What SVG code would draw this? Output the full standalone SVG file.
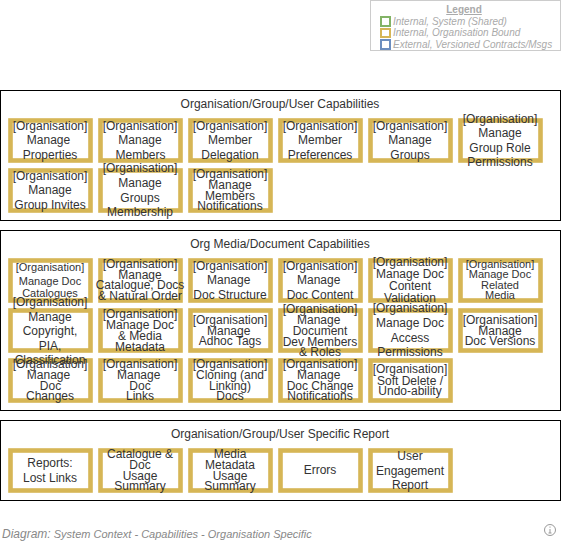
<svg xmlns="http://www.w3.org/2000/svg" width="561" height="545" viewBox="0 0 561 545">
<style>
text{font-family:"Liberation Sans",Arial,sans-serif;font-size:12px;fill:#333;text-anchor:middle}
.c{fill:#fff;stroke:#000;stroke-width:1}
.n{fill:#fff;stroke:#d6b656;stroke-width:4.6}
.s{font-size:11px}
.l{font-size:10px;font-style:italic;fill:#aaa;text-anchor:start}
.f{font-size:11px;font-style:italic;fill:#888;text-anchor:start}
</style>
<g id="legend">
<rect x="370.5" y="0.5" width="190" height="50" fill="#fff" stroke="#ccc"/>
<text x="464" y="13" style="font-size:10px;font-weight:bold;fill:#aaa;text-decoration:underline">Legend</text>
<rect x="381" y="17" width="9" height="9" fill="#fff" stroke="#82b366" stroke-width="2"/>
<rect x="381" y="29" width="9" height="8" fill="#fff" stroke="#d6b656" stroke-width="2"/>
<rect x="381" y="40" width="9" height="9" fill="#fff" stroke="#6c8ebf" stroke-width="2"/>
<text class="l" x="393" y="25">Internal, System (Shared)</text>
<text class="l" x="393" y="36">Internal, Organisation Bound</text>
<text class="l" x="393" y="47.5">External, Versioned Contracts/Msgs</text>
</g>
<g id="group-capabilities"><rect class="c" x="0.5" y="90.5" width="560" height="130"/><text x="280" y="108">Organisation/Group/User Capabilities</text></g>
<g id="media-capabilities"><rect class="c" x="0.5" y="230.5" width="560" height="180"/><text x="280" y="248">Org Media/Document Capabilities</text></g>
<g id="specific-report"><rect class="c" x="0.5" y="420.5" width="560" height="80"/><text x="280" y="438">Organisation/Group/User Specific Report</text></g>

<g id="n01"><rect class="n" x="10.5" y="120.5" width="80" height="40"/><text x="50" y="129.5">[Organisation]</text><text x="48.5" y="144">Manage</text><text x="50" y="159">Properties</text></g>
<g id="n02"><rect class="n" x="100.5" y="120.5" width="80" height="40"/><text x="140" y="129.5">[Organisation]</text><text x="140" y="144">Manage</text><text x="140.5" y="159">Members</text></g>
<g id="n03"><rect class="n" x="190.5" y="120.5" width="80" height="40"/><text x="230" y="129.5">[Organisation]</text><text x="230" y="144">Member</text><text x="230" y="159">Delegation</text></g>
<g id="n04"><rect class="n" x="280.5" y="120.5" width="80" height="40"/><text x="320" y="129.5">[Organisation]</text><text x="320" y="144">Member</text><text x="320" y="159">Preferences</text></g>
<g id="n05"><rect class="n" x="370.5" y="120.5" width="80" height="40"/><text x="410" y="129.5">[Organisation]</text><text x="410" y="144">Manage</text><text x="410" y="159">Groups</text></g>
<g id="n06"><rect class="n" x="460.5" y="120.5" width="80" height="40"/><text x="500" y="122.5">[Organisation]</text><text x="500" y="137">Manage</text><text x="500" y="151.5">Group Role</text><text x="500" y="166">Permissions</text></g>
<g id="n07"><rect class="n" x="10.5" y="170.5" width="80" height="40"/><text x="50" y="179.5">[Organisation]</text><text x="50" y="194">Manage</text><text x="50" y="209">Group Invites</text></g>
<g id="n08"><rect class="n" x="100.5" y="170.5" width="80" height="40"/><text x="140" y="172">[Organisation]</text><text x="140" y="187">Manage</text><text x="140" y="201.5">Groups</text><text x="140" y="216">Membership</text></g>
<g id="n09"><rect class="n" x="190.5" y="170.5" width="80" height="40"/><text x="230" y="178">[Organisation]</text><text x="230" y="189">Manage</text><text x="230" y="199.5">Members</text><text x="230" y="210">Notifications</text></g>

<g id="n10"><rect class="n" x="10.5" y="260.5" width="80" height="40"/><text class="s" x="50" y="271">[Organisation]</text><text class="s" x="50" y="284.5">Manage Doc</text><text class="s" x="50" y="297">Catalogues</text></g>
<g id="n11"><rect class="n" x="100.5" y="260.5" width="80" height="40"/><text x="140" y="267.5">[Organisation]</text><text x="140" y="278.5">Manage</text><text x="140" y="289">Catalogue, Docs</text><text x="140" y="300">&amp; Natural Order</text></g>
<g id="n12"><rect class="n" x="190.5" y="260.5" width="80" height="40"/><text x="230" y="269.5">[Organisation]</text><text x="228.7" y="284">Manage</text><text x="230" y="299">Doc Structure</text></g>
<g id="n13"><rect class="n" x="280.5" y="260.5" width="80" height="40"/><text x="320" y="269.5">[Organisation]</text><text x="318.7" y="284">Manage</text><text x="320" y="299">Doc Content</text></g>
<g id="n14"><rect class="n" x="370.5" y="260.5" width="80" height="40"/><text x="410" y="265.5">[Organisation]</text><text x="410" y="278">Manage Doc</text><text x="410" y="290">Content</text><text x="410" y="302">Validation</text></g>
<g id="n15"><rect class="n" x="460.5" y="260.5" width="80" height="40"/><text class="s" x="500" y="267.5">[Organisation]</text><text class="s" x="500" y="278">Manage Doc</text><text class="s" x="500" y="288.5">Related</text><text class="s" x="500" y="299">Media</text></g>

<g id="n22"><rect class="n" x="10.5" y="360.5" width="80" height="40"/><text x="50" y="368">[Organisation]</text><text x="48.5" y="379">Manage</text><text x="50.5" y="390">Doc</text><text x="50" y="400">Changes</text></g>
<g id="n23"><rect class="n" x="100.5" y="360.5" width="80" height="40"/><text x="140" y="368">[Organisation]</text><text x="138.7" y="379">Manage</text><text x="140" y="390">Doc</text><text x="140" y="400">Links</text></g>
<g id="n24"><rect class="n" x="190.5" y="360.5" width="80" height="40"/><text x="230" y="368">[Organisation]</text><text x="230" y="379">Cloning (and</text><text x="230" y="390">Linking)</text><text x="230" y="400">Docs</text></g>
<g id="n25"><rect class="n" x="280.5" y="360.5" width="80" height="40"/><text x="320" y="368">[Organisation]</text><text x="318.7" y="379">Manage</text><text x="320" y="390">Doc Change</text><text x="320" y="400">Notifications</text></g>
<g id="n26"><rect class="n" x="370.5" y="360.5" width="80" height="40"/><text x="410" y="373">[Organisation]</text><text x="410" y="384.5">Soft Delete /</text><text x="410" y="395">Undo-ability</text></g>

<g id="n16"><rect class="n" x="10.5" y="310.5" width="80" height="40"/><text x="50" y="306">[Organisation]</text><text x="50" y="320.5">Manage</text><text x="50" y="335">Copyright,</text><text x="50" y="349.5">PIA,</text><text x="50" y="364">Classification</text></g>
<g id="n17"><rect class="n" x="100.5" y="310.5" width="80" height="40"/><text x="140" y="318">[Organisation]</text><text x="140" y="329">Manage Doc</text><text x="140" y="340">&amp; Media</text><text x="140" y="351">Metadata</text></g>
<g id="n18"><rect class="n" x="190.5" y="310.5" width="80" height="40"/><text x="230" y="323.5">[Organisation]</text><text x="228.7" y="334.5">Manage</text><text x="230" y="345">Adhoc Tags</text></g>
<g id="n19"><rect class="n" x="280.5" y="310.5" width="80" height="40"/><text x="320" y="312.5">[Organisation]</text><text x="318.7" y="323.5">Manage</text><text x="320" y="334.5">Document</text><text x="320" y="345.5">Dev Members</text><text x="320" y="356">&amp; Roles</text></g>
<g id="n20"><rect class="n" x="370.5" y="310.5" width="80" height="40"/><text x="410" y="312">[Organisation]</text><text x="410" y="327">Manage Doc</text><text x="410" y="341.5">Access</text><text x="410" y="356">Permissions</text></g>
<g id="n21"><rect class="n" x="460.5" y="310.5" width="80" height="40"/><text x="500" y="323.5">[Organisation]</text><text x="500" y="334.5">Manage</text><text x="500" y="345">Doc Versions</text></g>

<g id="n27"><rect class="n" x="10.5" y="450.5" width="80" height="40"/><text x="50" y="467">Reports:</text><text x="50" y="482">Lost Links</text></g>
<g id="n28"><rect class="n" x="100.5" y="450.5" width="80" height="40"/><text x="140" y="458">Catalogue &amp;</text><text x="140" y="469">Doc</text><text x="140" y="480">Usage</text><text x="140" y="490">Summary</text></g>
<g id="n29"><rect class="n" x="190.5" y="450.5" width="80" height="40"/><text x="230" y="458">Media</text><text x="230" y="469">Metadata</text><text x="230" y="480">Usage</text><text x="230" y="490">Summary</text></g>
<g id="n30"><rect class="n" x="280.5" y="450.5" width="80" height="40"/><text x="320" y="474">Errors</text></g>
<g id="n31"><rect class="n" x="370.5" y="450.5" width="80" height="40"/><text x="410" y="460">User</text><text x="410" y="474.5">Engagement</text><text x="410" y="489">Report</text></g>
<g id="connectors"/>
<text class="f" x="2" y="538"><tspan font-size="12">Diagram:</tspan> System Context - Capabilities - Organisation Specific</text>
<g id="info" fill="none" stroke="#999"><circle cx="550" cy="530" r="5.5"/><path d="M550 529v4M548.5 533h3M550 526.5v1.2"/></g>
</svg>
